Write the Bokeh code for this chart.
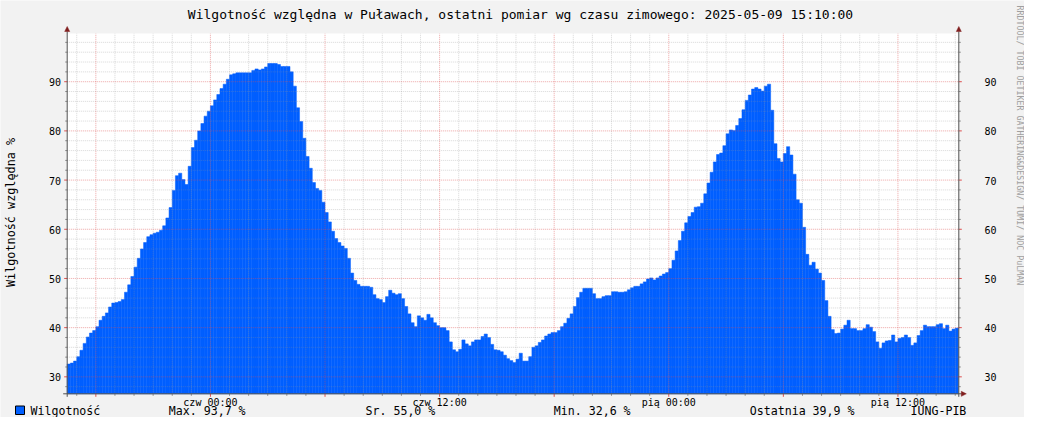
import numpy as np
import pandas as pd
from bokeh.plotting import figure
from bokeh.models import ColumnDataSource, Range1d
from bokeh.core.properties import value
from bokeh.embed import file_html
from bokeh.resources import INLINE

# ---------------- data ----------------
last_time = "2025-05-09 15:10"
ref_midnight = "2025-05-08 00:00"
step_minutes = 10

humidity = [
    32.6, 32.8, 33.2, 34.1, 35.4, 36.8, 38.1, 38.9, 39.4, 40.2,
    41.5, 42.3, 43.0, 44.2, 45.0, 45.1, 45.3, 45.7, 47.2, 48.7,
    50.4, 52.3, 54.1, 56.0, 57.3, 58.5, 58.9, 59.2, 59.4, 59.8,
    60.7, 62.3, 64.4, 67.9, 70.9, 71.4, 70.1, 69.1, 72.8, 76.6,
    78.1, 80.0, 81.5, 83.0, 84.0, 85.1, 86.3, 87.4,
    88.6, 89.5, 90.5, 91.4, 91.6, 91.8, 91.8, 91.8, 91.8, 91.8,
    92.3, 92.6, 92.4, 92.6, 93.0, 93.7, 93.7, 93.7, 93.5, 93.1,
    93.1, 93.1, 92.0, 89.1, 84.7, 81.9, 78.5, 74.8, 72.4, 69.5,
    68.3, 67.9, 65.5, 63.4, 61.5, 59.6, 58.1, 57.3, 56.6, 56.1,
    54.1, 51.1, 49.6, 48.8, 48.4, 48.4, 48.4,
    48.2, 46.7, 45.9, 45.7, 45.1, 46.3, 47.6, 47.0, 46.7, 46.9,
    45.9, 44.3, 42.8, 41.0, 40.2, 42.4, 42.0, 41.5, 42.7, 42.0,
    41.0, 40.4, 40.0, 40.0, 39.4, 37.1, 35.5, 35.1, 35.6, 37.5,
    36.7, 36.3, 37.1, 37.5, 37.5, 38.2, 38.7, 38.0, 36.6, 35.5,
    35.4, 35.1, 34.4, 33.7, 33.3, 32.9, 33.6,
    34.8, 33.2, 33.2, 34.1, 36.0, 36.3, 37.0, 37.5, 38.3, 38.7,
    39.0, 39.0, 39.4, 40.2, 40.9, 41.9, 42.8, 44.3, 46.1, 47.2,
    48.0, 48.0, 48.0, 46.9, 45.9, 45.9, 46.3, 46.5, 46.5, 47.3,
    47.3, 47.2, 47.2, 47.3, 47.7, 48.1, 48.4, 48.4, 48.9, 49.3,
    49.9, 50.1, 49.7, 50.1, 50.5, 50.9, 51.2, 52.0, 53.7, 55.6,
    57.7, 59.6, 61.3, 62.6, 63.4, 64.5, 64.6, 65.3, 67.2, 69.4,
    71.6, 73.7, 75.2, 75.5, 77.0, 79.4, 80.2, 80.1, 81.1, 82.5,
    84.3, 86.2, 87.3, 88.5, 88.8, 88.5, 88.1, 89.1, 89.5, 84.2,
    77.4, 74.4, 73.7, 75.4, 76.8, 75.1, 71.2, 66.0, 65.3, 60.4,
    54.9, 52.7, 53.3, 51.9, 51.1, 49.6, 45.5, 42.3, 39.6, 38.8,
    38.9,
    39.7, 40.5, 41.5, 39.8, 39.8, 39.4, 39.4, 39.8, 40.6, 40.1,
    39.2, 37.1, 35.8, 36.9, 37.3, 37.4, 38.5, 37.1, 37.8, 38.0,
    38.5, 38.0, 36.4, 36.9, 38.4, 39.4, 40.5, 40.2, 40.2, 40.2,
    40.6, 40.8, 39.8, 40.5, 39.3, 39.7, 39.9,
]

x_label_hours = [0, 12, 24, 36]
x_label_texts = ["czw 00:00", "czw 12:00", "pią 00:00", "pią 12:00"]
y_tick_values = [30, 40, 50, 60, 70, 80, 90]
y_range_limits = [26.55, 99.8]

title_text = "Wilgotność względna w Puławach, ostatni pomiar wg czasu zimowego: 2025-05-09 15:10:00"
y_title = "Wilgotność względna %"
series_name = "Wilgotność"
stats_texts = ["Max. 93,7 %", "Sr. 55,0 %", "Min. 32,6 %", "Ostatnia 39,9 %", "IUNG-PIB"]
watermark = "RRDTOOL/ TOBI OETIKER   GATHERING&DESIGN/ TUMI/ NOC PuLMAN"

# ---------------- styling / layout ----------------
BLUE = "#005FFF"
MONO = value("DejaVu Sans Mono")
AXIS_COL = "#505050"
ARROW_COL = "#801F1F"
GRID_COL = "#8F8F8F"
MGRID_COL = "#DE4F4F"
BG = "#F2F2F2"
W, H = 1024, 417
PLOT_L, PLOT_R, PLOT_T, PLOT_B = 66.7, 958.3, 33.0, 393.3
BASE_FIX = 0.32  # renderer draws "alphabetic" text this many em lower

# ---------------- derived series ----------------
n = len(humidity)
end = pd.Timestamp(last_time)
times = end - pd.to_timedelta(np.arange(n - 1, -1, -1) * step_minutes, unit="m")
hours = np.asarray((times - pd.Timestamp(ref_midnight)) / pd.Timedelta(hours=1), dtype=float)
step_h = step_minutes / 60.0
src = ColumnDataSource(dict(left=hours - step_h, right=hours, top=humidity))

x_lo = hours[0] - step_h
x_hi = hours[-1] + 0.02
y_lo, y_hi = y_range_limits

kx = (PLOT_R - PLOT_L) / (x_hi - x_lo)
ky = (PLOT_B - PLOT_T) / (y_hi - y_lo)


def X(px):
    return x_lo + (px - PLOT_L) / kx


def Y(py):
    return y_lo + (PLOT_B - py) / ky


p = figure(width=W, height=H, x_range=Range1d(X(0), X(W)), y_range=Range1d(Y(H), Y(0)),
           output_backend="svg", toolbar_location=None, title=None,
           x_axis_location=None, y_axis_location=None, min_border=0,
           background_fill_color=BG, border_fill_color=BG, outline_line_color=None)
p.grid.visible = False

# plot canvas
p.quad(left=[x_lo], right=[x_hi], bottom=[y_lo], top=[y_hi], fill_color="white", line_color=None)

# humidity area (10-minute steps)
p.quad(left="left", right="right", bottom=y_lo, top="top", source=src,
       fill_color=BLUE, line_color=BLUE, line_width=0.5)

# grid (drawn over the data, like rrdtool)
x_major = [h for h in range(-12, 48, 6) if x_lo < h < x_hi]
x_minor = [h for h in range(-12, 48) if h % 6 != 0 and x_lo < h < x_hi]
y_minor = [v for v in range(28, 100, 2) if v % 10 != 0 and y_lo < v < y_hi]

p.segment(x0=x_minor, y0=y_lo, x1=x_minor, y1=y_hi, line_color=GRID_COL,
          line_alpha=0.35, line_dash="1 1", line_width=1)
p.segment(x0=x_lo, y0=y_minor, x1=x_hi, y1=y_minor, line_color=GRID_COL,
          line_alpha=0.35, line_dash="1 1", line_width=1)
p.segment(x0=x_major, y0=y_lo, x1=x_major, y1=y_hi, line_color=MGRID_COL,
          line_alpha=0.5, line_dash="1 1", line_width=1)
p.segment(x0=x_lo, y0=y_tick_values, x1=x_hi, y1=y_tick_values, line_color=MGRID_COL,
          line_alpha=0.5, line_dash="1 1", line_width=1)

# ticks
p.segment(x0=x_minor, y0=y_lo, x1=x_minor, y1=Y(PLOT_B + 2), line_color=GRID_COL, line_width=1)
p.segment(x0=x_major, y0=y_lo, x1=x_major, y1=Y(PLOT_B + 3), line_color=MGRID_COL, line_width=1)
for ax_x, sgn in ((x_lo, -1), (x_hi, 1)):
    edge = PLOT_L if sgn < 0 else PLOT_R
    p.segment(x0=ax_x, y0=y_minor, x1=X(edge + 2 * sgn), y1=y_minor,
              line_color=GRID_COL, line_width=1)
    p.segment(x0=ax_x, y0=y_tick_values, x1=X(edge + 3 * sgn), y1=y_tick_values,
              line_color=MGRID_COL, line_width=1)

# axis lines
p.segment(x0=[x_lo, x_hi], y0=Y(PLOT_B + 3), x1=[x_lo, x_hi], y1=Y(PLOT_T - 2),
          line_color=AXIS_COL, line_width=1)
p.segment(x0=X(PLOT_L - 4), y0=y_lo, x1=X(PLOT_R + 3), y1=y_lo, line_color=AXIS_COL, line_width=1)

# arrow heads
tri_xs = [[X(PLOT_L - 2.5), X(PLOT_L + 2.5), X(PLOT_L)],
          [X(PLOT_R - 2.5), X(PLOT_R + 2.5), X(PLOT_R)],
          [X(PLOT_R + 2.5), X(PLOT_R + 2.5), X(PLOT_R + 7.5)]]
tri_ys = [[Y(PLOT_T - 2), Y(PLOT_T - 2), Y(PLOT_T - 7)],
          [Y(PLOT_T - 2), Y(PLOT_T - 2), Y(PLOT_T - 7)],
          [Y(PLOT_B - 2.5), Y(PLOT_B + 2.5), Y(PLOT_B)]]
p.patches(xs=tri_xs, ys=tri_ys, fill_color=ARROW_COL, line_color=ARROW_COL, line_width=0.5)


def text_at(xs, ys_px, texts, size, align="left", angle=0.0, color="black", xs_is_px=True):
    """Place texts so that their visible baseline lands on ys_px (canvas pixels)."""
    fix = BASE_FIX * size
    if angle == 0.0:
        yy = [Y(v - fix) for v in ys_px]
        xx = [X(v) for v in xs] if xs_is_px else list(xs)
    else:
        s = 1 if angle > 0 else -1
        xx = [X(v - s * fix) for v in xs]
        yy = [Y(v) for v in ys_px]
    p.text(x=xx, y=yy, text=texts, text_font=MONO, text_font_size=f"{size}px",
           text_align=align, text_baseline="alphabetic", angle=angle, text_color=color)


# tick labels
x_lab_y = PLOT_B + 11.5
text_at(x_label_hours, [x_lab_y] * len(x_label_hours), x_label_texts, 10, align="center",
        xs_is_px=False)
y_lab = [str(v) for v in y_tick_values]
y_lab_px = [PLOT_B - (v - y_lo) * ky + 3.65 for v in y_tick_values]
text_at([60.5] * len(y_lab), y_lab_px, y_lab, 10, align="right")
text_at([984] * len(y_lab), y_lab_px, y_lab, 10, align="left")

# title, axis title, watermark
text_at([520], [18], [title_text], 13, align="center")
text_at([14.5], [212], [y_title], 11.8, align="center", angle=np.pi / 2)
text_at([1017], [5], [watermark], 8.3, align="left", angle=-np.pi / 2, color="#A0A0A0")

# legend row
legend_y = 413.8
p.quad(left=[X(15)], right=[X(24)], top=[Y(405.5)], bottom=[Y(414.0)],
       fill_color=BLUE, line_color="black", line_width=1)
text_at([30], [legend_y], [series_name], 11.6)
text_at([168.3, 365, 553.3, 749.3, 910], [legend_y] * 5, stats_texts, 11.6)

open("out.html", "w").write(file_html(p, INLINE))
